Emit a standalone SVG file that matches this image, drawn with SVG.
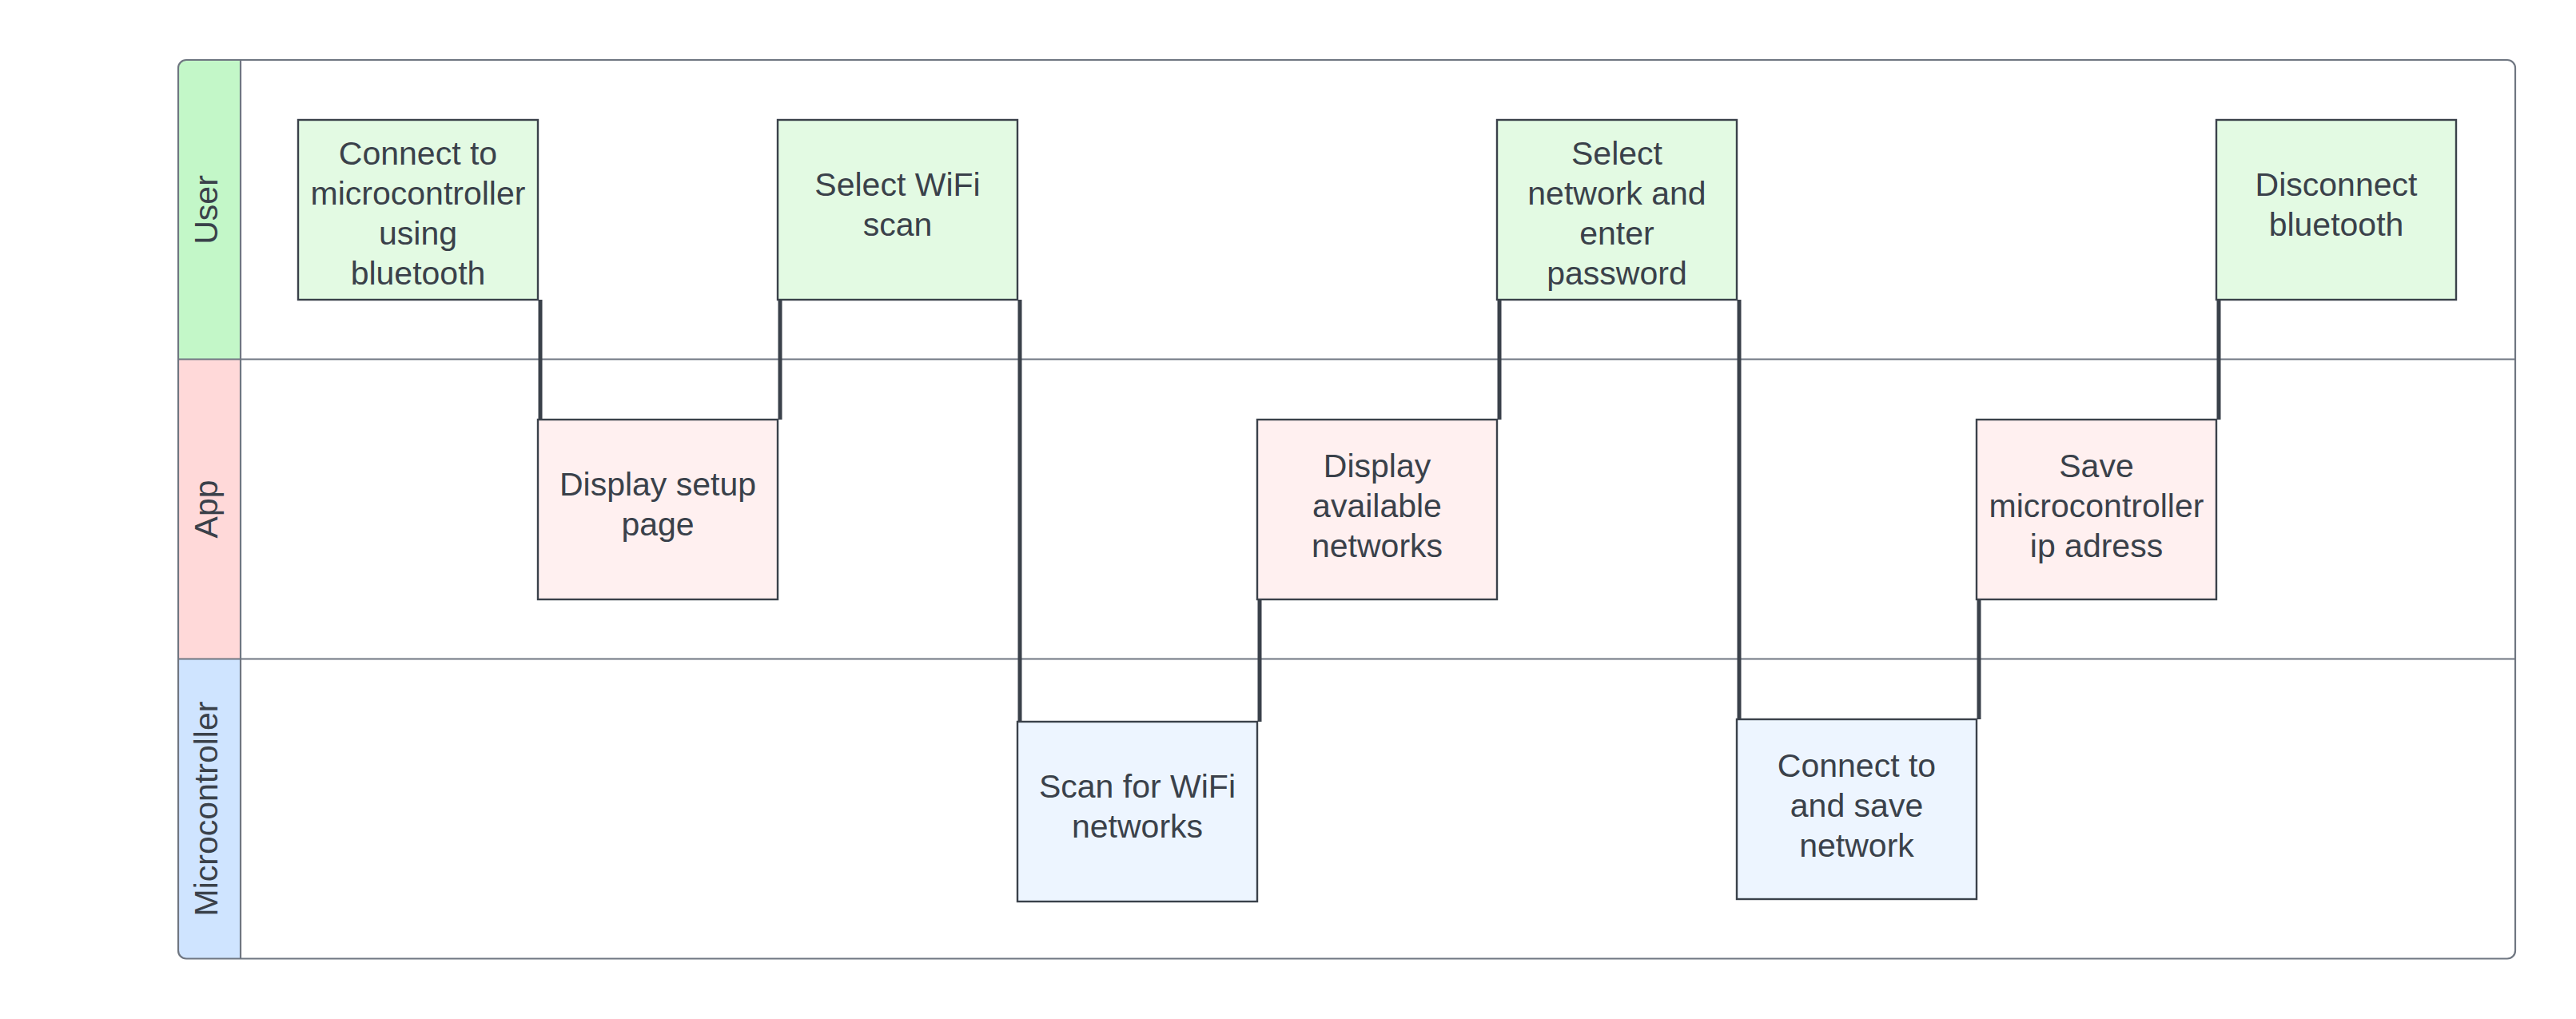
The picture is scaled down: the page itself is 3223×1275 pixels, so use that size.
<svg xmlns="http://www.w3.org/2000/svg" width="3223" height="1275" viewBox="0 0 3223 1275">
<style>
.frame{fill:none;stroke:#6f7681;stroke-width:2.2}
.div{stroke:#6f7681;stroke-width:2.2}
.lane-label{font-family:"Liberation Sans",Arial,sans-serif;font-size:41px;fill:#3a414a;text-anchor:middle}
.node rect{stroke:#3a414a;stroke-width:2.4}
.user rect{fill:#e3fae3}
.app rect{fill:#fff0f0}
.mc rect{fill:#edf5ff}
.node text{font-family:"Liberation Sans",Arial,sans-serif;font-size:41px;fill:#3a414a;text-anchor:middle}
.conn line{stroke:#3a414a;stroke-width:5;stroke-linecap:butt}
</style>
<defs>
<clipPath id="fclip"><rect x="223" y="75" width="2924" height="1124.5" rx="10" ry="10"/></clipPath>
</defs>
<rect width="3223" height="1275" fill="#ffffff"/>
<g id="pool">
<g clip-path="url(#fclip)">
<rect x="223" y="75" width="2924" height="1124.5" fill="#ffffff"/>
<rect x="223" y="75" width="78" height="374.5" fill="#c3f7c8"/>
<rect x="223" y="449.5" width="78" height="375" fill="#ffd9d9"/>
<rect x="223" y="824.5" width="78" height="375" fill="#cfe4ff"/>
</g>
<line class="div" x1="301" y1="75" x2="301" y2="1199.5"/>
<line class="div" x1="223" y1="449.5" x2="3147" y2="449.5"/>
<line class="div" x1="223" y1="824.5" x2="3147" y2="824.5"/>
<rect class="frame" x="223" y="75" width="2924" height="1124.5" rx="10" ry="10"/>
<text class="lane-label" transform="translate(272 262.5) rotate(-90)">User</text>
<text class="lane-label" transform="translate(272 637) rotate(-90)">App</text>
<text class="lane-label" transform="translate(272 1012) rotate(-90)">Microcontroller</text>
</g>
<g id="connectors" class="conn">
<line x1="676" y1="375" x2="676" y2="525"/>
<line x1="976" y1="525" x2="976" y2="375"/>
<line x1="1276" y1="375" x2="1276" y2="903"/>
<line x1="1576" y1="903" x2="1576" y2="750"/>
<line x1="1876" y1="525" x2="1876" y2="375"/>
<line x1="2176" y1="375" x2="2176" y2="900"/>
<line x1="2476" y1="900" x2="2476" y2="750"/>
<line x1="2776" y1="525" x2="2776" y2="375"/>
</g>
<g id="n1" class="node user">
<rect x="373" y="150" width="300" height="225"/>
<text><tspan x="523" y="206">Connect to</tspan><tspan x="523" y="256">microcontroller</tspan><tspan x="523" y="306">using</tspan><tspan x="523" y="356">bluetooth</tspan></text>
</g>
<g id="n2" class="node app">
<rect x="673" y="525" width="300" height="225"/>
<text><tspan x="823" y="619.5">Display setup</tspan><tspan x="823" y="669.5">page</tspan></text>
</g>
<g id="n3" class="node user">
<rect x="973" y="150" width="300" height="225"/>
<text><tspan x="1123" y="244.5">Select WiFi</tspan><tspan x="1123" y="294.5">scan</tspan></text>
</g>
<g id="n4" class="node mc">
<rect x="1273" y="903" width="300" height="225"/>
<text><tspan x="1423" y="997.5">Scan for WiFi</tspan><tspan x="1423" y="1047.5">networks</tspan></text>
</g>
<g id="n5" class="node app">
<rect x="1573" y="525" width="300" height="225"/>
<text><tspan x="1723" y="597">Display</tspan><tspan x="1723" y="647">available</tspan><tspan x="1723" y="697">networks</tspan></text>
</g>
<g id="n6" class="node user">
<rect x="1873" y="150" width="300" height="225"/>
<text><tspan x="2023" y="206">Select</tspan><tspan x="2023" y="256">network and</tspan><tspan x="2023" y="306">enter</tspan><tspan x="2023" y="356">password</tspan></text>
</g>
<g id="n7" class="node mc">
<rect x="2173" y="900" width="300" height="225"/>
<text><tspan x="2323" y="972">Connect to</tspan><tspan x="2323" y="1022">and save</tspan><tspan x="2323" y="1072">network</tspan></text>
</g>
<g id="n8" class="node app">
<rect x="2473" y="525" width="300" height="225"/>
<text><tspan x="2623" y="597">Save</tspan><tspan x="2623" y="647">microcontroller</tspan><tspan x="2623" y="697">ip adress</tspan></text>
</g>
<g id="n9" class="node user">
<rect x="2773" y="150" width="300" height="225"/>
<text><tspan x="2923" y="244.5">Disconnect</tspan><tspan x="2923" y="294.5">bluetooth</tspan></text>
</g>
</svg>
